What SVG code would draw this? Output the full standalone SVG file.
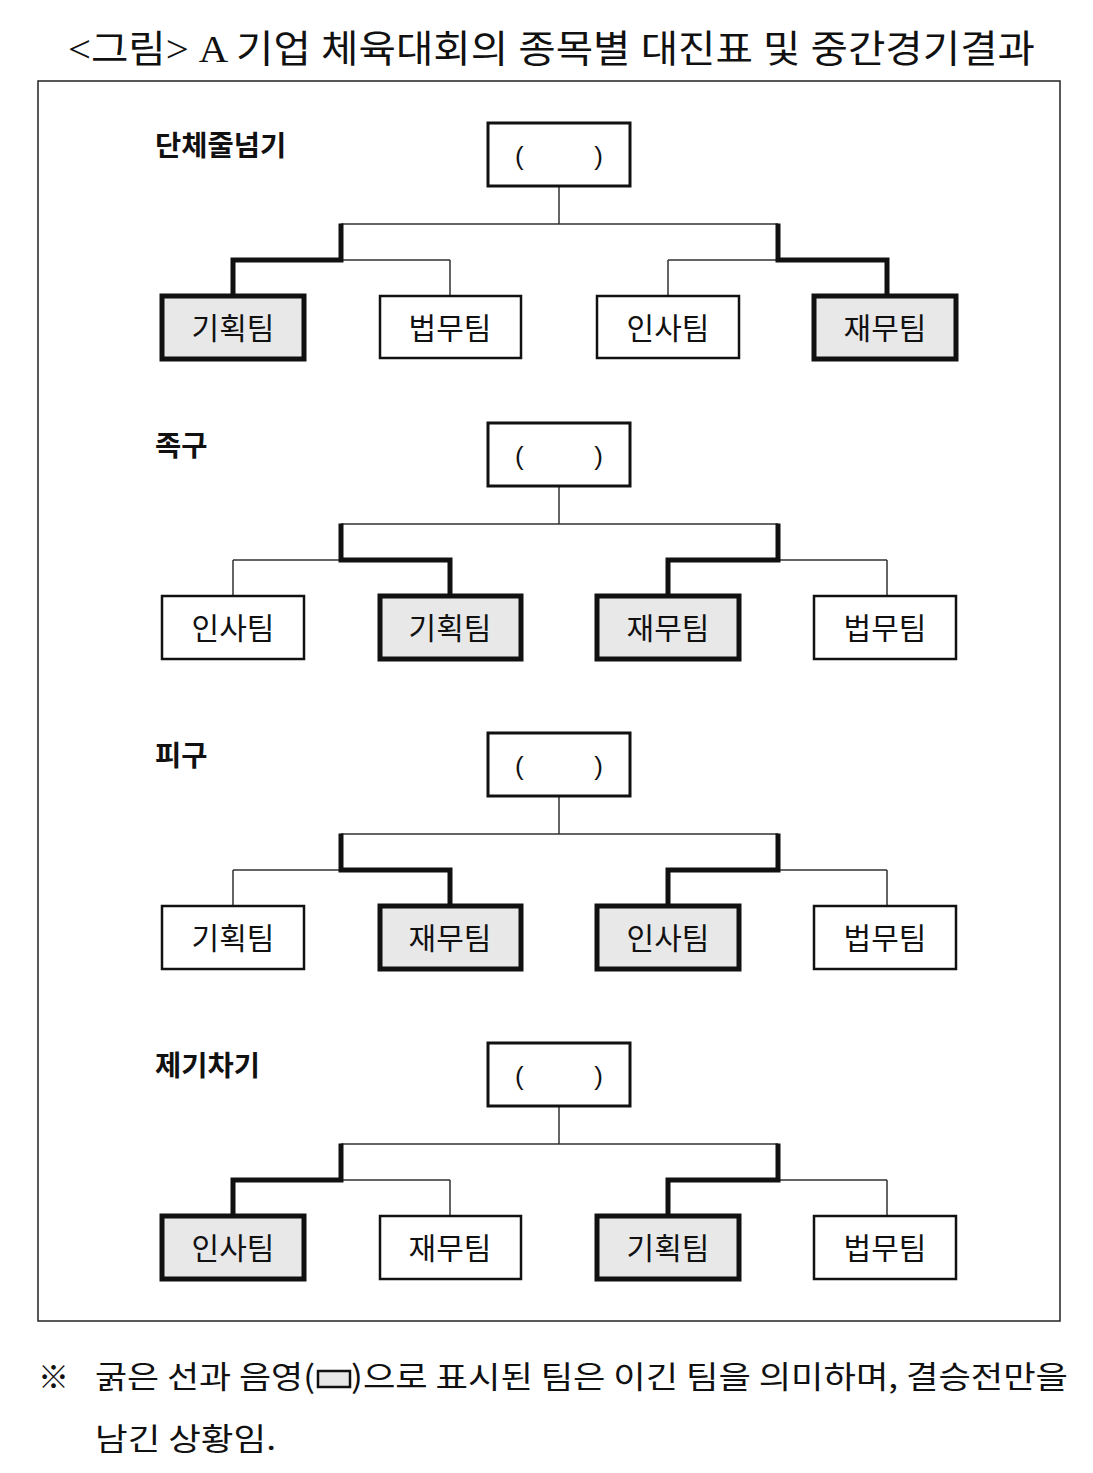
<svg xmlns="http://www.w3.org/2000/svg" width="1093" height="1473" viewBox="0 0 1093 1473">
<style>
.bg{fill:#fff}
.frame{fill:none;stroke:#222;stroke-width:1.5}
.top{fill:#fff;stroke:#111;stroke-width:3}
.lose{fill:#fff;stroke:#111;stroke-width:2.5}
.win{fill:#e8e8e8;stroke:#111;stroke-width:5}
.thin{fill:none;stroke:#333;stroke-width:1.5}
.thick{fill:none;stroke:#111;stroke-width:5;stroke-linejoin:miter;stroke-linecap:square}
.team{font-family:"Noto Sans CJK KR","Noto Sans",sans-serif;font-size:30px;fill:#111;text-anchor:middle}
.par{font-family:"Liberation Sans","Noto Sans CJK KR",sans-serif;font-size:26px;fill:#111;text-anchor:middle}
.lbl{font-family:"Noto Sans CJK KR","Noto Sans",sans-serif;font-size:28.5px;font-weight:bold;fill:#111}
.title{font-family:"Liberation Serif","Noto Sans CJK KR",serif;font-size:38px;fill:#111}
.note{font-family:"Noto Sans CJK KR","Noto Sans",sans-serif;font-size:31px;fill:#111}
</style>
<rect class="bg" x="0" y="0" width="1093" height="1473"/>
<text id="title" class="title" x="68" y="62" textLength="967" lengthAdjust="spacingAndGlyphs">&lt;그림&gt; A 기업 체육대회의 종목별 대진표 및 중간경기결과</text>
<rect id="frame" class="frame" x="38" y="81" width="1022" height="1240"/>

<g id="connectors">
  <g transform="translate(0,0)">
    <path class="thin" d="M559,186V224M341,224H778M341,224V260M233,260H450M233,260V296M450,260V296M778,224V260M668,260H887M668,260V296M887,260V296"/>
    <path class="thick" d="M233,296V260H341V226"/>
    <path class="thick" d="M887,296V260H778V226"/>
  </g>
  <g transform="translate(0,300)">
    <path class="thin" d="M559,186V224M341,224H778M341,224V260M233,260H450M233,260V296M450,260V296M778,224V260M668,260H887M668,260V296M887,260V296"/>
    <path class="thick" d="M450,296V260H341V226"/>
    <path class="thick" d="M668,296V260H778V226"/>
  </g>
  <g transform="translate(0,610)">
    <path class="thin" d="M559,186V224M341,224H778M341,224V260M233,260H450M233,260V296M450,260V296M778,224V260M668,260H887M668,260V296M887,260V296"/>
    <path class="thick" d="M450,296V260H341V226"/>
    <path class="thick" d="M668,296V260H778V226"/>
  </g>
  <g transform="translate(0,920)">
    <path class="thin" d="M559,186V224M341,224H778M341,224V260M233,260H450M233,260V296M450,260V296M778,224V260M668,260H887M668,260V296M887,260V296"/>
    <path class="thick" d="M233,296V260H341V226"/>
    <path class="thick" d="M668,296V260H778V226"/>
  </g>
</g>

<text id="label1" class="lbl" x="155" y="156">단체줄넘기</text>
<g id="s1-final"><rect class="top" x="488" y="123" width="142" height="63"/><text class="par" x="559" y="165" textLength="88" lengthAdjust="spacing" xml:space="preserve">(         )</text></g>
<g id="s1-t1"><rect class="win" x="162" y="296" width="142" height="63"/><text class="team" x="233" y="339">기획팀</text></g>
<g id="s1-t2"><rect class="lose" x="380" y="296" width="141" height="62"/><text class="team" x="450" y="339">법무팀</text></g>
<g id="s1-t3"><rect class="lose" x="597" y="296" width="142" height="62"/><text class="team" x="668" y="339">인사팀</text></g>
<g id="s1-t4"><rect class="win" x="814" y="296" width="142" height="63"/><text class="team" x="885" y="339">재무팀</text></g>

<text id="label2" class="lbl" x="155" y="456">족구</text>
<g id="s2-final"><rect class="top" x="488" y="423" width="142" height="63"/><text class="par" x="559" y="465" textLength="88" lengthAdjust="spacing" xml:space="preserve">(         )</text></g>
<g id="s2-t1"><rect class="lose" x="162" y="596" width="142" height="63"/><text class="team" x="233" y="639">인사팀</text></g>
<g id="s2-t2"><rect class="win" x="380" y="596" width="141" height="63"/><text class="team" x="450" y="639">기획팀</text></g>
<g id="s2-t3"><rect class="win" x="597" y="596" width="142" height="63"/><text class="team" x="668" y="639">재무팀</text></g>
<g id="s2-t4"><rect class="lose" x="814" y="596" width="142" height="63"/><text class="team" x="885" y="639">법무팀</text></g>

<text id="label3" class="lbl" x="155" y="766">피구</text>
<g id="s3-final"><rect class="top" x="488" y="733" width="142" height="63"/><text class="par" x="559" y="775" textLength="88" lengthAdjust="spacing" xml:space="preserve">(         )</text></g>
<g id="s3-t1"><rect class="lose" x="162" y="906" width="142" height="63"/><text class="team" x="233" y="949">기획팀</text></g>
<g id="s3-t2"><rect class="win" x="380" y="906" width="141" height="63"/><text class="team" x="450" y="949">재무팀</text></g>
<g id="s3-t3"><rect class="win" x="597" y="906" width="142" height="63"/><text class="team" x="668" y="949">인사팀</text></g>
<g id="s3-t4"><rect class="lose" x="814" y="906" width="142" height="63"/><text class="team" x="885" y="949">법무팀</text></g>

<text id="label4" class="lbl" x="155" y="1076">제기차기</text>
<g id="s4-final"><rect class="top" x="488" y="1043" width="142" height="63"/><text class="par" x="559" y="1085" textLength="88" lengthAdjust="spacing" xml:space="preserve">(         )</text></g>
<g id="s4-t1"><rect class="win" x="162" y="1216" width="142" height="63"/><text class="team" x="233" y="1259">인사팀</text></g>
<g id="s4-t2"><rect class="lose" x="380" y="1216" width="141" height="63"/><text class="team" x="450" y="1259">재무팀</text></g>
<g id="s4-t3"><rect class="win" x="597" y="1216" width="142" height="63"/><text class="team" x="668" y="1259">기획팀</text></g>
<g id="s4-t4"><rect class="lose" x="814" y="1216" width="142" height="63"/><text class="team" x="885" y="1259">법무팀</text></g>

<g id="footnote">
  <text class="note" x="38" y="1388">※</text>
  <text class="note" x="95" y="1388" textLength="220" lengthAdjust="spacingAndGlyphs">굵은 선과 음영(</text>
  <rect x="318" y="1371" width="32" height="16" fill="#e8e8e8" stroke="#111" stroke-width="2.5"/>
  <text class="note" x="351" y="1388" textLength="717" lengthAdjust="spacingAndGlyphs">)으로 표시된 팀은 이긴 팀을 의미하며, 결승전만을</text>
  <text class="note" x="95" y="1450" textLength="181" lengthAdjust="spacingAndGlyphs">남긴 상황임.</text>
</g>
</svg>
